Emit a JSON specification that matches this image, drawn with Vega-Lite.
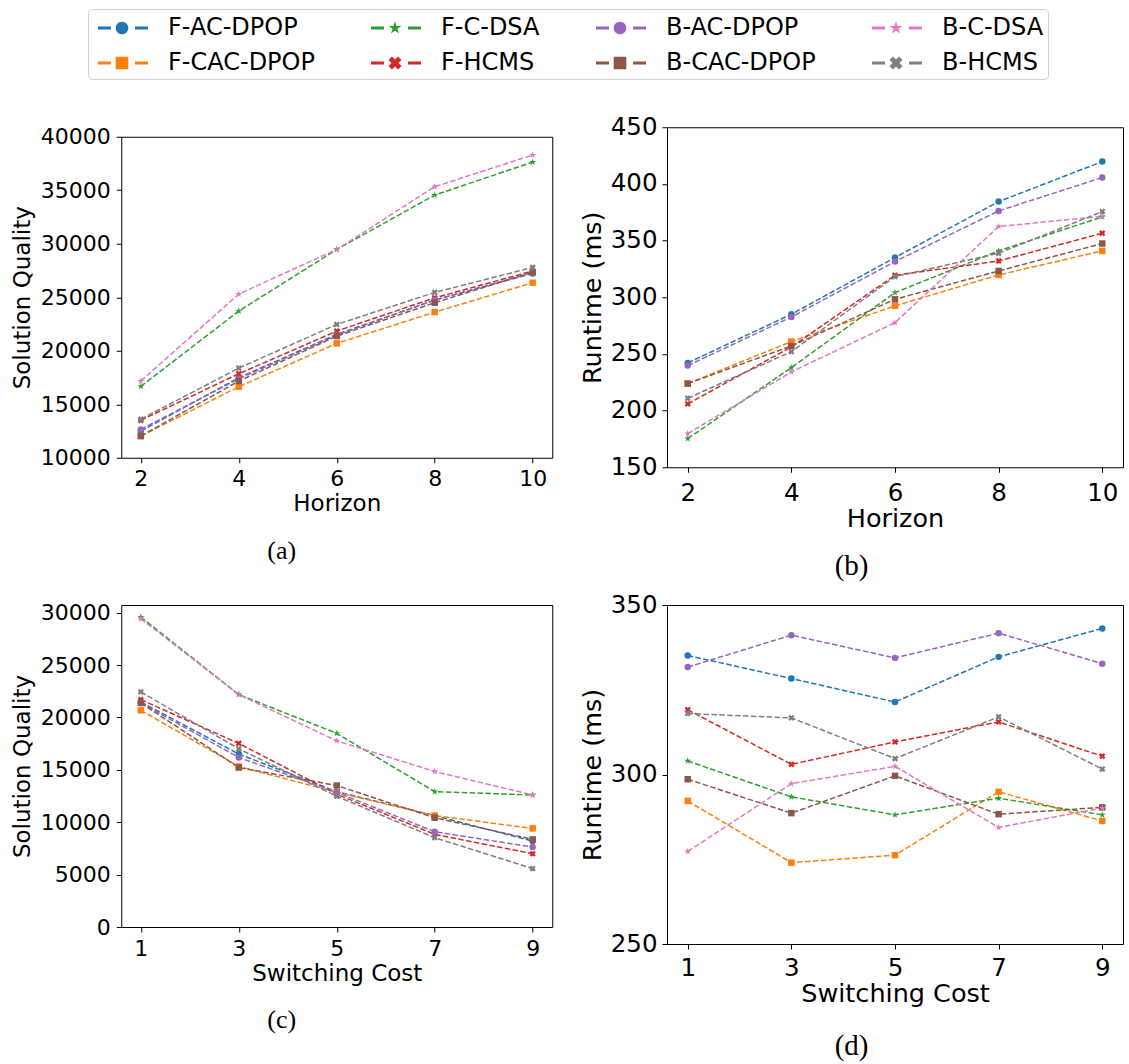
{
  "$schema": "https://vega.github.io/schema/vega-lite/v6.json",
  "padding": {"left": 10, "top": 8, "right": 3, "bottom": 3},
  "background": "white",
  "datasets": {
    "all": [
      {"panel": "a", "series": "F-AC-DPOP", "x": 2, "y": 12490}, {"panel": "a", "series": "F-AC-DPOP", "x": 4, "y": 17480}, {"panel": "a", "series": "F-AC-DPOP", "x": 6, "y": 21530}, {"panel": "a", "series": "F-AC-DPOP", "x": 8, "y": 24740}, {"panel": "a", "series": "F-AC-DPOP", "x": 10, "y": 27230},
      {"panel": "a", "series": "F-CAC-DPOP", "x": 2, "y": 12030}, {"panel": "a", "series": "F-CAC-DPOP", "x": 4, "y": 16640}, {"panel": "a", "series": "F-CAC-DPOP", "x": 6, "y": 20690}, {"panel": "a", "series": "F-CAC-DPOP", "x": 8, "y": 23610}, {"panel": "a", "series": "F-CAC-DPOP", "x": 10, "y": 26360},
      {"panel": "a", "series": "F-C-DSA", "x": 2, "y": 16670}, {"panel": "a", "series": "F-C-DSA", "x": 4, "y": 23710}, {"panel": "a", "series": "F-C-DSA", "x": 6, "y": 29470}, {"panel": "a", "series": "F-C-DSA", "x": 8, "y": 34550}, {"panel": "a", "series": "F-C-DSA", "x": 10, "y": 37630},
      {"panel": "a", "series": "F-HCMS", "x": 2, "y": 13500}, {"panel": "a", "series": "F-HCMS", "x": 4, "y": 17850}, {"panel": "a", "series": "F-HCMS", "x": 6, "y": 21840}, {"panel": "a", "series": "F-HCMS", "x": 8, "y": 24950}, {"panel": "a", "series": "F-HCMS", "x": 10, "y": 27450},
      {"panel": "a", "series": "B-AC-DPOP", "x": 2, "y": 12650}, {"panel": "a", "series": "B-AC-DPOP", "x": 4, "y": 17380}, {"panel": "a", "series": "B-AC-DPOP", "x": 6, "y": 21460}, {"panel": "a", "series": "B-AC-DPOP", "x": 8, "y": 24740}, {"panel": "a", "series": "B-AC-DPOP", "x": 10, "y": 27290},
      {"panel": "a", "series": "B-CAC-DPOP", "x": 2, "y": 12030}, {"panel": "a", "series": "B-CAC-DPOP", "x": 4, "y": 17170}, {"panel": "a", "series": "B-CAC-DPOP", "x": 6, "y": 21370}, {"panel": "a", "series": "B-CAC-DPOP", "x": 8, "y": 24490}, {"panel": "a", "series": "B-CAC-DPOP", "x": 10, "y": 27350},
      {"panel": "a", "series": "B-C-DSA", "x": 2, "y": 17170}, {"panel": "a", "series": "B-C-DSA", "x": 4, "y": 25300}, {"panel": "a", "series": "B-C-DSA", "x": 6, "y": 29470}, {"panel": "a", "series": "B-C-DSA", "x": 8, "y": 35330}, {"panel": "a", "series": "B-C-DSA", "x": 10, "y": 38290},
      {"panel": "a", "series": "B-HCMS", "x": 2, "y": 13610}, {"panel": "a", "series": "B-HCMS", "x": 4, "y": 18380}, {"panel": "a", "series": "B-HCMS", "x": 6, "y": 22460}, {"panel": "a", "series": "B-HCMS", "x": 8, "y": 25450}, {"panel": "a", "series": "B-HCMS", "x": 10, "y": 27790},

      {"panel": "b", "series": "F-AC-DPOP", "x": 2, "y": 242.1}, {"panel": "b", "series": "F-AC-DPOP", "x": 4, "y": 285.0}, {"panel": "b", "series": "F-AC-DPOP", "x": 6, "y": 335.0}, {"panel": "b", "series": "F-AC-DPOP", "x": 8, "y": 384.4}, {"panel": "b", "series": "F-AC-DPOP", "x": 10, "y": 419.7},
      {"panel": "b", "series": "F-CAC-DPOP", "x": 2, "y": 223.8}, {"panel": "b", "series": "F-CAC-DPOP", "x": 4, "y": 260.9}, {"panel": "b", "series": "F-CAC-DPOP", "x": 6, "y": 292.4}, {"panel": "b", "series": "F-CAC-DPOP", "x": 8, "y": 319.7}, {"panel": "b", "series": "F-CAC-DPOP", "x": 10, "y": 340.9},
      {"panel": "b", "series": "F-C-DSA", "x": 2, "y": 175.3}, {"panel": "b", "series": "F-C-DSA", "x": 4, "y": 237.9}, {"panel": "b", "series": "F-C-DSA", "x": 6, "y": 304.1}, {"panel": "b", "series": "F-C-DSA", "x": 8, "y": 340.9}, {"panel": "b", "series": "F-C-DSA", "x": 10, "y": 370.9},
      {"panel": "b", "series": "F-HCMS", "x": 2, "y": 205.9}, {"panel": "b", "series": "F-HCMS", "x": 4, "y": 256.2}, {"panel": "b", "series": "F-HCMS", "x": 6, "y": 319.4}, {"panel": "b", "series": "F-HCMS", "x": 8, "y": 332.0}, {"panel": "b", "series": "F-HCMS", "x": 10, "y": 356.5},
      {"panel": "b", "series": "B-AC-DPOP", "x": 2, "y": 239.7}, {"panel": "b", "series": "B-AC-DPOP", "x": 4, "y": 282.6}, {"panel": "b", "series": "B-AC-DPOP", "x": 6, "y": 331.5}, {"panel": "b", "series": "B-AC-DPOP", "x": 8, "y": 376.2}, {"panel": "b", "series": "B-AC-DPOP", "x": 10, "y": 405.6},
      {"panel": "b", "series": "B-CAC-DPOP", "x": 2, "y": 223.8}, {"panel": "b", "series": "B-CAC-DPOP", "x": 4, "y": 257.0}, {"panel": "b", "series": "B-CAC-DPOP", "x": 6, "y": 298.2}, {"panel": "b", "series": "B-CAC-DPOP", "x": 8, "y": 323.2}, {"panel": "b", "series": "B-CAC-DPOP", "x": 10, "y": 347.4},
      {"panel": "b", "series": "B-C-DSA", "x": 2, "y": 179.7}, {"panel": "b", "series": "B-C-DSA", "x": 4, "y": 234.1}, {"panel": "b", "series": "B-C-DSA", "x": 6, "y": 277.6}, {"panel": "b", "series": "B-C-DSA", "x": 8, "y": 362.4}, {"panel": "b", "series": "B-C-DSA", "x": 10, "y": 371.5},
      {"panel": "b", "series": "B-HCMS", "x": 2, "y": 210.9}, {"panel": "b", "series": "B-HCMS", "x": 4, "y": 252.0}, {"panel": "b", "series": "B-HCMS", "x": 6, "y": 318.2}, {"panel": "b", "series": "B-HCMS", "x": 8, "y": 338.8}, {"panel": "b", "series": "B-HCMS", "x": 10, "y": 375.6},

      {"panel": "c", "series": "F-AC-DPOP", "x": 1, "y": 21470}, {"panel": "c", "series": "F-AC-DPOP", "x": 3, "y": 16500}, {"panel": "c", "series": "F-AC-DPOP", "x": 5, "y": 12920}, {"panel": "c", "series": "F-AC-DPOP", "x": 7, "y": 10630}, {"panel": "c", "series": "F-AC-DPOP", "x": 9, "y": 8200},
      {"panel": "c", "series": "F-CAC-DPOP", "x": 1, "y": 20680}, {"panel": "c", "series": "F-CAC-DPOP", "x": 3, "y": 15320}, {"panel": "c", "series": "F-CAC-DPOP", "x": 5, "y": 12860}, {"panel": "c", "series": "F-CAC-DPOP", "x": 7, "y": 10630}, {"panel": "c", "series": "F-CAC-DPOP", "x": 9, "y": 9410},
      {"panel": "c", "series": "F-C-DSA", "x": 1, "y": 29580}, {"panel": "c", "series": "F-C-DSA", "x": 3, "y": 22180}, {"panel": "c", "series": "F-C-DSA", "x": 5, "y": 18480}, {"panel": "c", "series": "F-C-DSA", "x": 7, "y": 12920}, {"panel": "c", "series": "F-C-DSA", "x": 9, "y": 12600},
      {"panel": "c", "series": "F-HCMS", "x": 1, "y": 21700}, {"panel": "c", "series": "F-HCMS", "x": 3, "y": 17520}, {"panel": "c", "series": "F-HCMS", "x": 5, "y": 12670}, {"panel": "c", "series": "F-HCMS", "x": 7, "y": 8840}, {"panel": "c", "series": "F-HCMS", "x": 9, "y": 6990},
      {"panel": "c", "series": "B-AC-DPOP", "x": 1, "y": 21380}, {"panel": "c", "series": "B-AC-DPOP", "x": 3, "y": 16180}, {"panel": "c", "series": "B-AC-DPOP", "x": 5, "y": 12860}, {"panel": "c", "series": "B-AC-DPOP", "x": 7, "y": 9090}, {"panel": "c", "series": "B-AC-DPOP", "x": 9, "y": 7630},
      {"panel": "c", "series": "B-CAC-DPOP", "x": 1, "y": 21380}, {"panel": "c", "series": "B-CAC-DPOP", "x": 3, "y": 15220}, {"panel": "c", "series": "B-CAC-DPOP", "x": 5, "y": 13500}, {"panel": "c", "series": "B-CAC-DPOP", "x": 7, "y": 10430}, {"panel": "c", "series": "B-CAC-DPOP", "x": 9, "y": 8360},
      {"panel": "c", "series": "B-C-DSA", "x": 1, "y": 29420}, {"panel": "c", "series": "B-C-DSA", "x": 3, "y": 22180}, {"panel": "c", "series": "B-C-DSA", "x": 5, "y": 17770}, {"panel": "c", "series": "B-C-DSA", "x": 7, "y": 14840}, {"panel": "c", "series": "B-C-DSA", "x": 9, "y": 12600},
      {"panel": "c", "series": "B-HCMS", "x": 1, "y": 22430}, {"panel": "c", "series": "B-HCMS", "x": 3, "y": 17010}, {"panel": "c", "series": "B-HCMS", "x": 5, "y": 12480}, {"panel": "c", "series": "B-HCMS", "x": 7, "y": 8520}, {"panel": "c", "series": "B-HCMS", "x": 9, "y": 5580},

      {"panel": "d", "series": "F-AC-DPOP", "x": 1, "y": 335.1}, {"panel": "d", "series": "F-AC-DPOP", "x": 3, "y": 328.3}, {"panel": "d", "series": "F-AC-DPOP", "x": 5, "y": 321.4}, {"panel": "d", "series": "F-AC-DPOP", "x": 7, "y": 334.7}, {"panel": "d", "series": "F-AC-DPOP", "x": 9, "y": 343.1},
      {"panel": "d", "series": "F-CAC-DPOP", "x": 1, "y": 292.2}, {"panel": "d", "series": "F-CAC-DPOP", "x": 3, "y": 274.0}, {"panel": "d", "series": "F-CAC-DPOP", "x": 5, "y": 276.2}, {"panel": "d", "series": "F-CAC-DPOP", "x": 7, "y": 294.9}, {"panel": "d", "series": "F-CAC-DPOP", "x": 9, "y": 286.3},
      {"panel": "d", "series": "F-C-DSA", "x": 1, "y": 304.0}, {"panel": "d", "series": "F-C-DSA", "x": 3, "y": 293.4}, {"panel": "d", "series": "F-C-DSA", "x": 5, "y": 288.1}, {"panel": "d", "series": "F-C-DSA", "x": 7, "y": 293.0}, {"panel": "d", "series": "F-C-DSA", "x": 9, "y": 288.1},
      {"panel": "d", "series": "F-HCMS", "x": 1, "y": 319.1}, {"panel": "d", "series": "F-HCMS", "x": 3, "y": 303.0}, {"panel": "d", "series": "F-HCMS", "x": 5, "y": 309.6}, {"panel": "d", "series": "F-HCMS", "x": 7, "y": 315.5}, {"panel": "d", "series": "F-HCMS", "x": 9, "y": 305.4},
      {"panel": "d", "series": "B-AC-DPOP", "x": 1, "y": 331.7}, {"panel": "d", "series": "B-AC-DPOP", "x": 3, "y": 341.1}, {"panel": "d", "series": "B-AC-DPOP", "x": 5, "y": 334.4}, {"panel": "d", "series": "B-AC-DPOP", "x": 7, "y": 341.7}, {"panel": "d", "series": "B-AC-DPOP", "x": 9, "y": 332.7},
      {"panel": "d", "series": "B-CAC-DPOP", "x": 1, "y": 298.6}, {"panel": "d", "series": "B-CAC-DPOP", "x": 3, "y": 288.6}, {"panel": "d", "series": "B-CAC-DPOP", "x": 5, "y": 299.6}, {"panel": "d", "series": "B-CAC-DPOP", "x": 7, "y": 288.3}, {"panel": "d", "series": "B-CAC-DPOP", "x": 9, "y": 290.3},
      {"panel": "d", "series": "B-C-DSA", "x": 1, "y": 277.3}, {"panel": "d", "series": "B-C-DSA", "x": 3, "y": 297.3}, {"panel": "d", "series": "B-C-DSA", "x": 5, "y": 302.4}, {"panel": "d", "series": "B-C-DSA", "x": 7, "y": 284.4}, {"panel": "d", "series": "B-C-DSA", "x": 9, "y": 290.1},
      {"panel": "d", "series": "B-HCMS", "x": 1, "y": 318.0}, {"panel": "d", "series": "B-HCMS", "x": 3, "y": 316.7}, {"panel": "d", "series": "B-HCMS", "x": 5, "y": 304.7}, {"panel": "d", "series": "B-HCMS", "x": 7, "y": 317.0}, {"panel": "d", "series": "B-HCMS", "x": 9, "y": 301.6}
    ]
  },
  "data": {"name": "all"},
  "columns": 2,
  "spacing": {"row": 9, "column": 26},
  "align": "each",
  "center": true,
  "bounds": "full",
  "resolve": {"scale": {"x": "independent", "y": "independent", "color": "shared", "shape": "shared"}},
  "concat": [
    {
      "width": 431, "height": 321,
      "title": {"text": ["(a)", " "], "lineHeight": 8, "orient": "bottom", "anchor": "middle", "frame": "bounds", "font": "Liberation Serif", "fontSize": 26, "fontWeight": "normal", "color": "black", "offset": 22},
      "transform": [{"filter": "datum.panel === 'a'"}],
      "encoding": {
        "x": {"field": "x", "type": "quantitative", "scale": {"domain": [1.6, 10.4], "nice": false, "zero": false}, "axis": {"values": [2, 4, 6, 8, 10], "title": "Horizon", "labelFontSize": 22, "titleFontSize": 23, "labelPadding": 6, "titlePadding": 3}},
        "y": {"field": "y", "type": "quantitative", "scale": {"domain": [10000, 40000], "nice": false, "zero": false}, "axis": {"values": [10000, 15000, 20000, 25000, 30000, 35000, 40000], "format": "d", "title": "Solution Quality", "labelFontSize": 22, "titleFontSize": 23, "labelPadding": 6, "titlePadding": 6}},
        "color": {"field": "series", "type": "nominal",
          "scale": {"domain": ["F-AC-DPOP", "F-CAC-DPOP", "F-C-DSA", "F-HCMS", "B-AC-DPOP", "B-CAC-DPOP", "B-C-DSA", "B-HCMS"], "range": ["#1f77b4", "#ff7f0e", "#2ca02c", "#d62728", "#9467bd", "#8c564b", "#e377c2", "#7f7f7f"]},
          "legend": {
            "orient": "none", "legendX": -33, "legendY": -118, "columns": 4, "title": null,
            "symbolSize": 900, "labelFontSize": 24, "labelFont": "DejaVu Sans", "labelColor": "black", "labelLimit": 400, "labelOffset": 46,
            "columnPadding": 50, "rowPadding": 8, "padding": 4, "strokeColor": "#d0d0d0", "fillColor": "white", "cornerRadius": 4,
            "encode": {"symbols": {"update": {
              "shape": {"signal": "indexof(datum.value,'CAC')>=0 ? 'M-0.6,-0.107L0.267,-0.107L0.267,0.107L-0.6,0.107Z M1.867,-0.107L2.733,-0.107L2.733,0.107L1.867,0.107Z M0.58,-0.42L1.42,-0.42L1.42,0.42L0.58,0.42Z' : (indexof(datum.value,'AC-DPOP')>=0 ? 'M-0.6,-0.107L0.267,-0.107L0.267,0.107L-0.6,0.107Z M1.867,-0.107L2.733,-0.107L2.733,0.107L1.867,0.107Z M0.58,0A0.42,0.42,0,1,0,1.42,0A0.42,0.42,0,1,0,0.58,0Z' : (indexof(datum.value,'DSA')>=0 ? 'M-0.6,-0.107L0.267,-0.107L0.267,0.107L-0.6,0.107Z M1.867,-0.107L2.733,-0.107L2.733,0.107L1.867,0.107Z M1,-0.45L1.101,-0.139L1.428,-0.139L1.163,0.053L1.265,0.364L1,0.172L0.735,0.364L0.837,0.053L0.572,-0.139L0.899,-0.139Z' : 'M-0.6,-0.107L0.267,-0.107L0.267,0.107L-0.6,0.107Z M1.867,-0.107L2.733,-0.107L2.733,0.107L1.867,0.107Z M1.204,-0.433L1.433,-0.204L1.229,0L1.433,0.204L1.204,0.433L1,0.229L0.796,0.433L0.567,0.204L0.771,0L0.567,-0.204L0.796,-0.433L1,-0.229Z'))"},
              "fill": {"signal": "scale('color', datum.value)"},
              "stroke": {"value": "transparent"},
              "strokeWidth": {"value": 0},
              "opacity": {"value": 1},
              "fillOpacity": {"value": 1}
            }}}
          }
        }
      },
      "layer": [
        {"mark": {"type": "line", "strokeDash": [5.5, 2.4], "strokeWidth": 1.5}},
        {"mark": {"type": "point", "filled": true, "size": 42, "opacity": 1},
         "encoding": {"shape": {"field": "series", "type": "nominal", "legend": null,
           "scale": {"domain": ["B-HCMS", "B-C-DSA", "B-CAC-DPOP", "B-AC-DPOP", "F-HCMS", "F-C-DSA", "F-CAC-DPOP", "F-AC-DPOP"],
             "range": ["M0.4525,-0.9617L0.9617,-0.4525L0.509,0L0.9617,0.4525L0.4525,0.9617L0,0.509L-0.4525,0.9617L-0.9617,0.4525L-0.509,0L-0.9617,-0.4525L-0.4525,-0.9617L0,-0.509Z", "M0,-1.15L0.259,-0.355L1.094,-0.355L0.417,0.136L0.676,0.93L0,0.439L-0.676,0.93L-0.417,0.136L-1.094,-0.355L-0.259,-0.355Z", "square", "circle", "M0.4525,-0.9617L0.9617,-0.4525L0.509,0L0.9617,0.4525L0.4525,0.9617L0,0.509L-0.4525,0.9617L-0.9617,0.4525L-0.509,0L-0.9617,-0.4525L-0.4525,-0.9617L0,-0.509Z", "M0,-1.15L0.259,-0.355L1.094,-0.355L0.417,0.136L0.676,0.93L0,0.439L-0.676,0.93L-0.417,0.136L-1.094,-0.355L-0.259,-0.355Z", "square", "circle"]}}}}
      ]
    },
    {
      "width": 456, "height": 340,
      "title": {"text": "(b)", "orient": "bottom", "anchor": "middle", "frame": "bounds", "font": "Liberation Serif", "fontSize": 29, "fontWeight": "normal", "color": "black", "offset": 20},
      "transform": [{"filter": "datum.panel === 'b'"}],
      "encoding": {
        "x": {"field": "x", "type": "quantitative", "scale": {"domain": [1.6, 10.4], "nice": false, "zero": false}, "axis": {"values": [2, 4, 6, 8, 10], "title": "Horizon", "labelFontSize": 24.5, "titleFontSize": 25.5, "labelPadding": 9, "titlePadding": 2}},
        "y": {"field": "y", "type": "quantitative", "scale": {"domain": [150, 450], "nice": false, "zero": false}, "axis": {"values": [150, 200, 250, 300, 350, 400, 450], "format": "d", "title": "Runtime (ms)", "labelFontSize": 24.5, "titleFontSize": 25.5, "labelPadding": 5, "titlePadding": 5}},
        "color": {"field": "series", "type": "nominal",
          "scale": {"domain": ["F-AC-DPOP", "F-CAC-DPOP", "F-C-DSA", "F-HCMS", "B-AC-DPOP", "B-CAC-DPOP", "B-C-DSA", "B-HCMS"], "range": ["#1f77b4", "#ff7f0e", "#2ca02c", "#d62728", "#9467bd", "#8c564b", "#e377c2", "#7f7f7f"]}}
      },
      "layer": [
        {"mark": {"type": "line", "strokeDash": [5.5, 2.4], "strokeWidth": 1.5}},
        {"mark": {"type": "point", "filled": true, "size": 42, "opacity": 1},
         "encoding": {"shape": {"field": "series", "type": "nominal", "legend": null,
           "scale": {"domain": ["B-HCMS", "B-C-DSA", "B-CAC-DPOP", "B-AC-DPOP", "F-HCMS", "F-C-DSA", "F-CAC-DPOP", "F-AC-DPOP"],
             "range": ["M0.4525,-0.9617L0.9617,-0.4525L0.509,0L0.9617,0.4525L0.4525,0.9617L0,0.509L-0.4525,0.9617L-0.9617,0.4525L-0.509,0L-0.9617,-0.4525L-0.4525,-0.9617L0,-0.509Z", "M0,-1.15L0.259,-0.355L1.094,-0.355L0.417,0.136L0.676,0.93L0,0.439L-0.676,0.93L-0.417,0.136L-1.094,-0.355L-0.259,-0.355Z", "square", "circle", "M0.4525,-0.9617L0.9617,-0.4525L0.509,0L0.9617,0.4525L0.4525,0.9617L0,0.509L-0.4525,0.9617L-0.9617,0.4525L-0.509,0L-0.9617,-0.4525L-0.4525,-0.9617L0,-0.509Z", "M0,-1.15L0.259,-0.355L1.094,-0.355L0.417,0.136L0.676,0.93L0,0.439L-0.676,0.93L-0.417,0.136L-1.094,-0.355L-0.259,-0.355Z", "square", "circle"]}}}}
      ]
    },
    {
      "width": 431, "height": 322,
      "title": {"text": "(c)", "orient": "bottom", "anchor": "middle", "frame": "bounds", "font": "Liberation Serif", "fontSize": 26, "fontWeight": "normal", "color": "black", "offset": 22},
      "transform": [{"filter": "datum.panel === 'c'"}],
      "encoding": {
        "x": {"field": "x", "type": "quantitative", "scale": {"domain": [0.6, 9.4], "nice": false, "zero": false}, "axis": {"values": [1, 3, 5, 7, 9], "title": "Switching Cost", "labelFontSize": 22, "titleFontSize": 23, "labelPadding": 6, "titlePadding": 3}},
        "y": {"field": "y", "type": "quantitative", "scale": {"domain": [0, 30730], "nice": false, "zero": false}, "axis": {"values": [0, 5000, 10000, 15000, 20000, 25000, 30000], "format": "d", "title": "Solution Quality", "labelFontSize": 22, "titleFontSize": 23, "labelPadding": 6, "titlePadding": 6}},
        "color": {"field": "series", "type": "nominal",
          "scale": {"domain": ["F-AC-DPOP", "F-CAC-DPOP", "F-C-DSA", "F-HCMS", "B-AC-DPOP", "B-CAC-DPOP", "B-C-DSA", "B-HCMS"], "range": ["#1f77b4", "#ff7f0e", "#2ca02c", "#d62728", "#9467bd", "#8c564b", "#e377c2", "#7f7f7f"]}}
      },
      "layer": [
        {"mark": {"type": "line", "strokeDash": [5.5, 2.4], "strokeWidth": 1.5}},
        {"mark": {"type": "point", "filled": true, "size": 42, "opacity": 1},
         "encoding": {"shape": {"field": "series", "type": "nominal", "legend": null,
           "scale": {"domain": ["B-HCMS", "B-C-DSA", "B-CAC-DPOP", "B-AC-DPOP", "F-HCMS", "F-C-DSA", "F-CAC-DPOP", "F-AC-DPOP"],
             "range": ["M0.4525,-0.9617L0.9617,-0.4525L0.509,0L0.9617,0.4525L0.4525,0.9617L0,0.509L-0.4525,0.9617L-0.9617,0.4525L-0.509,0L-0.9617,-0.4525L-0.4525,-0.9617L0,-0.509Z", "M0,-1.15L0.259,-0.355L1.094,-0.355L0.417,0.136L0.676,0.93L0,0.439L-0.676,0.93L-0.417,0.136L-1.094,-0.355L-0.259,-0.355Z", "square", "circle", "M0.4525,-0.9617L0.9617,-0.4525L0.509,0L0.9617,0.4525L0.4525,0.9617L0,0.509L-0.4525,0.9617L-0.9617,0.4525L-0.509,0L-0.9617,-0.4525L-0.4525,-0.9617L0,-0.509Z", "M0,-1.15L0.259,-0.355L1.094,-0.355L0.417,0.136L0.676,0.93L0,0.439L-0.676,0.93L-0.417,0.136L-1.094,-0.355L-0.259,-0.355Z", "square", "circle"]}}}}
      ]
    },
    {
      "width": 456, "height": 339,
      "title": {"text": ["(d)", " "], "lineHeight": 6, "orient": "bottom", "anchor": "middle", "frame": "bounds", "font": "Liberation Serif", "fontSize": 29, "fontWeight": "normal", "color": "black", "offset": 25},
      "transform": [{"filter": "datum.panel === 'd'"}],
      "encoding": {
        "x": {"field": "x", "type": "quantitative", "scale": {"domain": [0.6, 9.4], "nice": false, "zero": false}, "axis": {"values": [1, 3, 5, 7, 9], "title": "Switching Cost", "labelFontSize": 24.5, "titleFontSize": 25.5, "labelPadding": 7, "titlePadding": 2}},
        "y": {"field": "y", "type": "quantitative", "scale": {"domain": [250, 350], "nice": false, "zero": false}, "axis": {"values": [250, 300, 350], "format": "d", "title": "Runtime (ms)", "labelFontSize": 24.5, "titleFontSize": 25.5, "labelPadding": 5, "titlePadding": 5}},
        "color": {"field": "series", "type": "nominal",
          "scale": {"domain": ["F-AC-DPOP", "F-CAC-DPOP", "F-C-DSA", "F-HCMS", "B-AC-DPOP", "B-CAC-DPOP", "B-C-DSA", "B-HCMS"], "range": ["#1f77b4", "#ff7f0e", "#2ca02c", "#d62728", "#9467bd", "#8c564b", "#e377c2", "#7f7f7f"]}}
      },
      "layer": [
        {"mark": {"type": "line", "strokeDash": [5.5, 2.4], "strokeWidth": 1.5}},
        {"mark": {"type": "point", "filled": true, "size": 42, "opacity": 1},
         "encoding": {"shape": {"field": "series", "type": "nominal", "legend": null,
           "scale": {"domain": ["B-HCMS", "B-C-DSA", "B-CAC-DPOP", "B-AC-DPOP", "F-HCMS", "F-C-DSA", "F-CAC-DPOP", "F-AC-DPOP"],
             "range": ["M0.4525,-0.9617L0.9617,-0.4525L0.509,0L0.9617,0.4525L0.4525,0.9617L0,0.509L-0.4525,0.9617L-0.9617,0.4525L-0.509,0L-0.9617,-0.4525L-0.4525,-0.9617L0,-0.509Z", "M0,-1.15L0.259,-0.355L1.094,-0.355L0.417,0.136L0.676,0.93L0,0.439L-0.676,0.93L-0.417,0.136L-1.094,-0.355L-0.259,-0.355Z", "square", "circle", "M0.4525,-0.9617L0.9617,-0.4525L0.509,0L0.9617,0.4525L0.4525,0.9617L0,0.509L-0.4525,0.9617L-0.9617,0.4525L-0.509,0L-0.9617,-0.4525L-0.4525,-0.9617L0,-0.509Z", "M0,-1.15L0.259,-0.355L1.094,-0.355L0.417,0.136L0.676,0.93L0,0.439L-0.676,0.93L-0.417,0.136L-1.094,-0.355L-0.259,-0.355Z", "square", "circle"]}}}}
      ]
    }
  ],
  "config": {
    "font": "DejaVu Sans",
    "view": {"stroke": "black", "strokeWidth": 1},
    "axis": {"grid": false, "domain": false, "tickColor": "black", "tickWidth": 1, "tickSize": 5, "labelColor": "black", "titleColor": "black", "titleFontWeight": "normal", "labelFlush": false, "labelOverlap": false, "labelFont": "DejaVu Sans", "titleFont": "DejaVu Sans"}
  }
}
